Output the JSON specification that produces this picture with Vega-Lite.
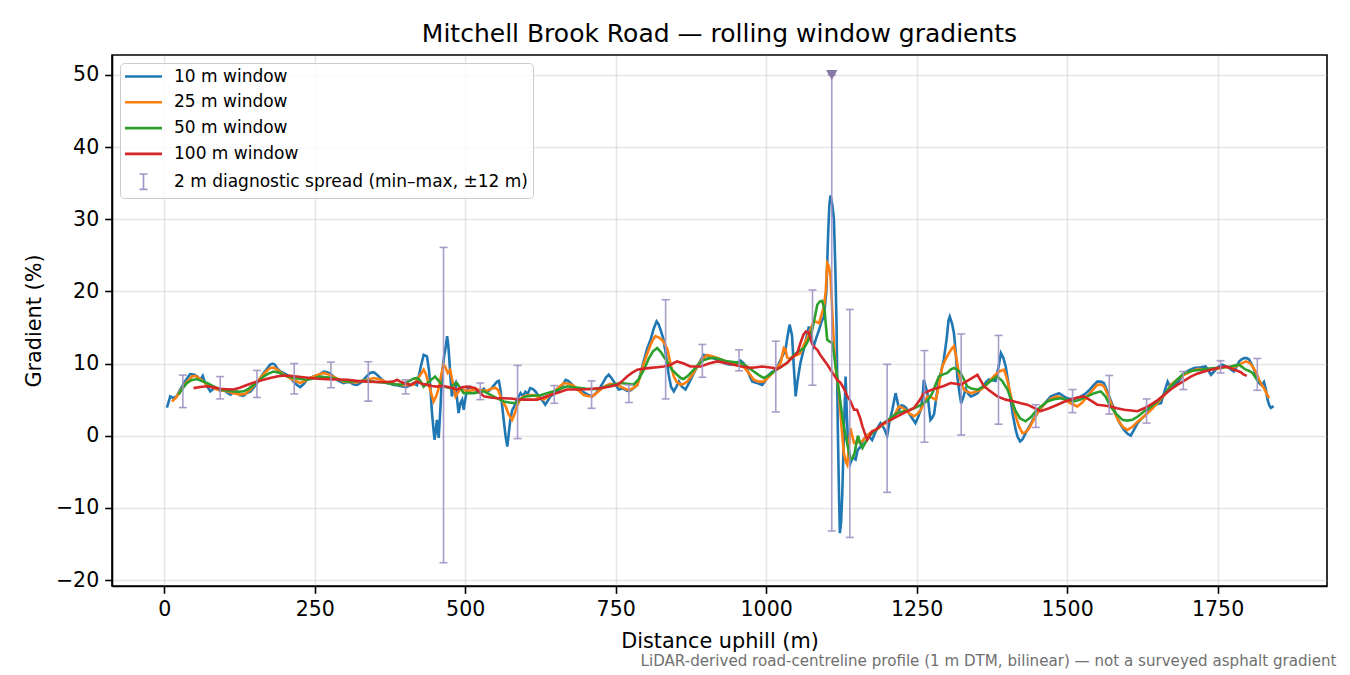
{
  "$schema": "https://vega.github.io/schema/vega-lite/v6.json",
  "autosize": {"type": "none"},
  "padding": {"left": 112, "top": 55, "right": 23, "bottom": 89},
  "width": 1215,
  "height": 531,
  "background": "white",
  "title": {
    "text": "Mitchell Brook Road — rolling window gradients",
    "font": "DejaVu Sans",
    "fontSize": 25,
    "fontWeight": "normal",
    "color": "black",
    "anchor": "middle",
    "offset": 8
  },
  "config": {
    "font": "DejaVu Sans",
    "view": {"stroke": "black", "strokeWidth": 1.6},
    "axis": {
      "labelFont": "DejaVu Sans",
      "labelFontSize": 20.5,
      "labelColor": "black",
      "titleFont": "DejaVu Sans",
      "titleFontSize": 20.8,
      "titleFontWeight": "normal",
      "titleColor": "black",
      "tickColor": "black",
      "tickSize": 7.3,
      "tickWidth": 1.6,
      "domainColor": "black",
      "domainWidth": 1.6,
      "labelPadding": 6,
      "gridColor": "#b0b0b0",
      "gridOpacity": 0.3,
      "gridWidth": 1.6
    },
    "legend": {
      "labelFont": "DejaVu Sans",
      "labelFontSize": 17,
      "labelColor": "black",
      "labelLimit": 0
    }
  },
  "datasets": {
    "w10": [
      {"dist":4.5,"grad":3.9},{"dist":10,"grad":5.45},{"dist":15.5,"grad":5.2},{"dist":21,"grad":5.5},{"dist":26.6,"grad":6.4},{"dist":35,"grad":7.6},{"dist":43,"grad":8.55},{"dist":49,"grad":8.5},{"dist":55,"grad":8.2},{"dist":60,"grad":7.75},{"dist":64,"grad":8.3},{"dist":68,"grad":7.3},{"dist":76.5,"grad":6.15},{"dist":82,"grad":6.5},{"dist":87.6,"grad":6.6},{"dist":93,"grad":6.2},{"dist":98.7,"grad":6.4},{"dist":104,"grad":6.0},{"dist":110,"grad":5.7},{"dist":115,"grad":6.0},{"dist":121,"grad":6.1},{"dist":126,"grad":5.6},{"dist":132,"grad":5.55},{"dist":137,"grad":5.9},{"dist":143,"grad":6.1},{"dist":148,"grad":6.6},{"dist":154,"grad":7.3},{"dist":160,"grad":8.0},{"dist":165,"grad":8.7},{"dist":171,"grad":9.3},{"dist":176,"grad":9.85},{"dist":180,"grad":10.0},{"dist":184,"grad":9.85},{"dist":188,"grad":9.3},{"dist":193,"grad":8.9},{"dist":198,"grad":8.7},{"dist":204,"grad":8.45},{"dist":210,"grad":8.0},{"dist":215,"grad":7.5},{"dist":221,"grad":7.0},{"dist":226,"grad":6.75},{"dist":232,"grad":7.2},{"dist":237,"grad":7.75},{"dist":243,"grad":8.0},{"dist":248,"grad":8.2},{"dist":256,"grad":8.4},{"dist":265,"grad":8.9},{"dist":271,"grad":8.8},{"dist":276,"grad":8.6},{"dist":281,"grad":8.2},{"dist":287,"grad":7.75},{"dist":292,"grad":7.5},{"dist":298,"grad":7.3},{"dist":304,"grad":7.45},{"dist":309,"grad":7.4},{"dist":315,"grad":7.1},{"dist":320,"grad":7.05},{"dist":326,"grad":7.3},{"dist":331,"grad":7.75},{"dist":337,"grad":8.3},{"dist":342,"grad":8.7},{"dist":348,"grad":8.8},{"dist":353,"grad":8.5},{"dist":359,"grad":8.0},{"dist":364,"grad":7.6},{"dist":370,"grad":7.3},{"dist":376,"grad":7.2},{"dist":381,"grad":7.05},{"dist":387,"grad":7.0},{"dist":392,"grad":6.9},{"dist":398,"grad":6.8},{"dist":403,"grad":6.75},{"dist":409,"grad":7.0},{"dist":414,"grad":7.3},{"dist":420,"grad":7.0},{"dist":426,"grad":9.5},{"dist":431,"grad":11.2},{"dist":436.5,"grad":11.0},{"dist":440,"grad":9.0},{"dist":442,"grad":6.8},{"dist":445,"grad":3.0},{"dist":449,"grad":-0.55},{"dist":451,"grad":0.5},{"dist":453,"grad":2.2},{"dist":456,"grad":-0.3},{"dist":459,"grad":4.0},{"dist":461.6,"grad":8.7},{"dist":465,"grad":11.0},{"dist":468,"grad":12.5},{"dist":470,"grad":13.8},{"dist":472,"grad":12.5},{"dist":474,"grad":10.1},{"dist":476,"grad":7.5},{"dist":478,"grad":5.45},{"dist":481,"grad":6.8},{"dist":484,"grad":7.3},{"dist":486,"grad":5.5},{"dist":489,"grad":3.15},{"dist":492,"grad":4.5},{"dist":495,"grad":5.0},{"dist":497.5,"grad":3.6},{"dist":500,"grad":5.0},{"dist":503,"grad":6.4},{"dist":508,"grad":6.8},{"dist":514,"grad":6.5},{"dist":519,"grad":6.2},{"dist":525,"grad":6.15},{"dist":531,"grad":6.5},{"dist":536,"grad":6.0},{"dist":542,"grad":6.4},{"dist":547,"grad":6.9},{"dist":553,"grad":7.5},{"dist":556,"grad":7.6},{"dist":558.5,"grad":6.4},{"dist":561,"grad":4.5},{"dist":564,"grad":2.2},{"dist":567,"grad":0.0},{"dist":570,"grad":-1.5},{"dist":572,"grad":0.0},{"dist":575,"grad":2.2},{"dist":578,"grad":3.5},{"dist":581,"grad":4.0},{"dist":586,"grad":5.0},{"dist":592,"grad":5.9},{"dist":596,"grad":5.5},{"dist":600,"grad":6.1},{"dist":604,"grad":5.8},{"dist":608,"grad":6.6},{"dist":612,"grad":6.5},{"dist":617,"grad":6.1},{"dist":621,"grad":5.6},{"dist":625,"grad":5.2},{"dist":629,"grad":4.8},{"dist":633,"grad":4.3},{"dist":637,"grad":4.8},{"dist":641.6,"grad":5.45},{"dist":647,"grad":5.8},{"dist":653,"grad":6.1},{"dist":660,"grad":6.8},{"dist":667,"grad":7.75},{"dist":671,"grad":7.6},{"dist":675,"grad":7.3},{"dist":680,"grad":6.9},{"dist":686,"grad":6.4},{"dist":692,"grad":6.2},{"dist":697,"grad":6.0},{"dist":704,"grad":5.7},{"dist":711,"grad":5.45},{"dist":715,"grad":5.7},{"dist":719,"grad":6.1},{"dist":725,"grad":6.8},{"dist":730,"grad":7.5},{"dist":734,"grad":8.1},{"dist":738.5,"grad":8.45},{"dist":743,"grad":8.0},{"dist":747,"grad":7.5},{"dist":751,"grad":6.9},{"dist":755,"grad":6.4},{"dist":760,"grad":6.5},{"dist":763.5,"grad":6.5},{"dist":769,"grad":6.2},{"dist":775,"grad":6.3},{"dist":780,"grad":6.6},{"dist":786,"grad":7.05},{"dist":791,"grad":8.5},{"dist":797,"grad":10.5},{"dist":802,"grad":12.0},{"dist":808,"grad":13.3},{"dist":813,"grad":14.8},{"dist":818,"grad":15.85},{"dist":821,"grad":15.5},{"dist":824.5,"grad":14.7},{"dist":829,"grad":13.5},{"dist":833,"grad":11.5},{"dist":838,"grad":8.5},{"dist":842,"grad":6.8},{"dist":846.6,"grad":6.15},{"dist":851,"grad":6.8},{"dist":855,"grad":7.5},{"dist":860,"grad":6.8},{"dist":866,"grad":6.4},{"dist":873,"grad":7.5},{"dist":880,"grad":8.7},{"dist":888,"grad":10.0},{"dist":896.5,"grad":11.2},{"dist":903,"grad":11.0},{"dist":910,"grad":10.8},{"dist":917,"grad":10.6},{"dist":924,"grad":10.4},{"dist":932,"grad":10.0},{"dist":941,"grad":9.85},{"dist":949,"grad":10.0},{"dist":957.5,"grad":10.4},{"dist":963,"grad":10.0},{"dist":968.6,"grad":9.15},{"dist":973,"grad":8.2},{"dist":977,"grad":7.5},{"dist":985,"grad":7.3},{"dist":993.5,"grad":7.05},{"dist":998,"grad":7.5},{"dist":1002,"grad":8.2},{"dist":1009,"grad":8.8},{"dist":1016,"grad":9.15},{"dist":1020,"grad":9.8},{"dist":1024,"grad":10.5},{"dist":1028,"grad":11.2},{"dist":1032,"grad":11.9},{"dist":1036,"grad":14.0},{"dist":1039,"grad":15.4},{"dist":1043,"grad":13.9},{"dist":1046,"grad":9.5},{"dist":1049,"grad":5.45},{"dist":1052,"grad":7.5},{"dist":1055,"grad":9.1},{"dist":1057,"grad":10.1},{"dist":1064,"grad":12.5},{"dist":1071,"grad":15.15},{"dist":1075,"grad":13.5},{"dist":1079,"grad":12.4},{"dist":1083,"grad":13.5},{"dist":1088,"grad":14.7},{"dist":1092,"grad":15.8},{"dist":1096,"grad":16.5},{"dist":1100,"grad":20},{"dist":1103,"grad":28},{"dist":1105,"grad":32},{"dist":1107,"grad":33.3},{"dist":1110,"grad":32},{"dist":1112.6,"grad":30},{"dist":1115,"grad":23},{"dist":1117,"grad":15.2},{"dist":1119,"grad":1.3},{"dist":1121,"grad":-8},{"dist":1122.5,"grad":-13.5},{"dist":1124.5,"grad":-12},{"dist":1126.5,"grad":-8},{"dist":1129,"grad":0},{"dist":1132,"grad":8.2},{"dist":1134,"grad":3},{"dist":1136,"grad":-1.0},{"dist":1140,"grad":-3.8},{"dist":1144,"grad":-3.0},{"dist":1148.6,"grad":-3.3},{"dist":1152,"grad":-2.0},{"dist":1157,"grad":-1.5},{"dist":1162,"grad":-0.5},{"dist":1168,"grad":0.1},{"dist":1172,"grad":-0.2},{"dist":1176,"grad":-0.6},{"dist":1183,"grad":0.8},{"dist":1190,"grad":1.75},{"dist":1196,"grad":1.0},{"dist":1201,"grad":0},{"dist":1205,"grad":2.0},{"dist":1209.6,"grad":3.6},{"dist":1215,"grad":5.9},{"dist":1218,"grad":4.8},{"dist":1221,"grad":3.6},{"dist":1225,"grad":4.2},{"dist":1229,"grad":4.1},{"dist":1233,"grad":3.8},{"dist":1237,"grad":3.15},{"dist":1242,"grad":2.5},{"dist":1248,"grad":1.75},{"dist":1252,"grad":2.5},{"dist":1257,"grad":3.6},{"dist":1260,"grad":5.5},{"dist":1262,"grad":7.75},{"dist":1265,"grad":6.8},{"dist":1268,"grad":5.9},{"dist":1271,"grad":3.5},{"dist":1273,"grad":2.2},{"dist":1276,"grad":2.5},{"dist":1279,"grad":3.0},{"dist":1283,"grad":5.5},{"dist":1287,"grad":7.75},{"dist":1291,"grad":9.0},{"dist":1295,"grad":10.5},{"dist":1300,"grad":13.5},{"dist":1303,"grad":16.0},{"dist":1305,"grad":16.5},{"dist":1309,"grad":15.5},{"dist":1312,"grad":14.2},{"dist":1315,"grad":11.5},{"dist":1317.6,"grad":8.2},{"dist":1321,"grad":6.0},{"dist":1324,"grad":4.5},{"dist":1328,"grad":5.5},{"dist":1331.5,"grad":6.5},{"dist":1336,"grad":5.8},{"dist":1340,"grad":5.45},{"dist":1345,"grad":5.6},{"dist":1351,"grad":5.9},{"dist":1356,"grad":6.4},{"dist":1362,"grad":7.05},{"dist":1366,"grad":7.5},{"dist":1370,"grad":7.8},{"dist":1376,"grad":7.7},{"dist":1381,"grad":7.6},{"dist":1386,"grad":9.5},{"dist":1390,"grad":11.45},{"dist":1394,"grad":10.8},{"dist":1398,"grad":9.6},{"dist":1402,"grad":7.5},{"dist":1406,"grad":5.0},{"dist":1410,"grad":2.8},{"dist":1414.6,"grad":0.8},{"dist":1418,"grad":-0.2},{"dist":1422,"grad":-0.8},{"dist":1426,"grad":-0.5},{"dist":1431,"grad":0.35},{"dist":1438,"grad":1.4},{"dist":1445,"grad":2.45},{"dist":1452,"grad":3.3},{"dist":1459,"grad":4.05},{"dist":1466,"grad":4.8},{"dist":1473,"grad":5.45},{"dist":1480,"grad":5.7},{"dist":1486.6,"grad":5.9},{"dist":1492,"grad":5.6},{"dist":1497.7,"grad":5.3},{"dist":1503,"grad":5.1},{"dist":1509,"grad":5.1},{"dist":1516,"grad":5.2},{"dist":1523,"grad":5.45},{"dist":1530,"grad":5.8},{"dist":1536.6,"grad":6.3},{"dist":1543,"grad":6.9},{"dist":1550,"grad":7.5},{"dist":1556,"grad":7.5},{"dist":1561,"grad":7.3},{"dist":1566,"grad":6.3},{"dist":1572,"grad":5.0},{"dist":1578,"grad":3.7},{"dist":1583.6,"grad":2.4},{"dist":1589,"grad":1.5},{"dist":1594.6,"grad":0.8},{"dist":1600,"grad":0.3},{"dist":1605.7,"grad":0},{"dist":1611,"grad":0.8},{"dist":1617,"grad":1.75},{"dist":1624,"grad":2.4},{"dist":1630.6,"grad":2.9},{"dist":1639,"grad":4.0},{"dist":1644.5,"grad":4.3},{"dist":1650,"grad":4.4},{"dist":1656,"grad":4.5},{"dist":1661,"grad":5.9},{"dist":1667,"grad":7.5},{"dist":1670,"grad":7.0},{"dist":1675,"grad":6.9},{"dist":1683,"grad":7.3},{"dist":1689,"grad":8.0},{"dist":1694.6,"grad":8.7},{"dist":1703,"grad":9.1},{"dist":1711,"grad":9.4},{"dist":1722,"grad":9.5},{"dist":1730,"grad":9.6},{"dist":1735,"grad":9.0},{"dist":1739,"grad":8.45},{"dist":1743,"grad":8.8},{"dist":1747,"grad":9.15},{"dist":1752,"grad":9.6},{"dist":1758,"grad":9.85},{"dist":1764,"grad":9.6},{"dist":1769,"grad":9.4},{"dist":1773,"grad":9.1},{"dist":1777,"grad":8.9},{"dist":1781,"grad":9.5},{"dist":1786,"grad":10.3},{"dist":1790,"grad":10.6},{"dist":1794,"grad":10.75},{"dist":1798,"grad":10.75},{"dist":1802,"grad":10.6},{"dist":1806,"grad":10.0},{"dist":1810.7,"grad":9.15},{"dist":1815,"grad":8.2},{"dist":1819,"grad":7.3},{"dist":1823,"grad":7.0},{"dist":1827,"grad":7.45},{"dist":1830,"grad":6.5},{"dist":1833,"grad":5.0},{"dist":1836,"grad":4.2},{"dist":1838.5,"grad":3.85},{"dist":1843,"grad":4.1}
    ],
    "w25": [
      {"dist":12.8,"grad":4.75},{"dist":20,"grad":5.3},{"dist":26.6,"grad":6.2},{"dist":36,"grad":7.3},{"dist":46,"grad":8.2},{"dist":52,"grad":8.3},{"dist":57,"grad":8.0},{"dist":64,"grad":7.6},{"dist":71,"grad":7.05},{"dist":80,"grad":6.7},{"dist":87.6,"grad":6.4},{"dist":95,"grad":6.3},{"dist":104,"grad":6.15},{"dist":115,"grad":5.9},{"dist":126,"grad":5.7},{"dist":135,"grad":5.8},{"dist":143,"grad":6.4},{"dist":151,"grad":7.2},{"dist":159.6,"grad":8.0},{"dist":168,"grad":8.8},{"dist":176,"grad":9.4},{"dist":182,"grad":9.45},{"dist":187,"grad":9.2},{"dist":195,"grad":8.7},{"dist":204,"grad":8.2},{"dist":215,"grad":7.7},{"dist":226,"grad":7.3},{"dist":234,"grad":7.6},{"dist":242.7,"grad":8.0},{"dist":254,"grad":8.4},{"dist":265,"grad":8.7},{"dist":273,"grad":8.5},{"dist":281,"grad":8.2},{"dist":290,"grad":7.8},{"dist":298,"grad":7.5},{"dist":309,"grad":7.45},{"dist":320,"grad":7.4},{"dist":334,"grad":7.7},{"dist":348,"grad":8.0},{"dist":359,"grad":7.8},{"dist":370,"grad":7.4},{"dist":381,"grad":7.2},{"dist":392,"grad":7.05},{"dist":403,"grad":7.0},{"dist":414,"grad":7.05},{"dist":422,"grad":8.0},{"dist":431,"grad":9.15},{"dist":435,"grad":8.5},{"dist":439,"grad":7.3},{"dist":443,"grad":6.0},{"dist":447.6,"grad":4.75},{"dist":452,"grad":5.5},{"dist":456,"grad":6.6},{"dist":460,"grad":8.3},{"dist":464,"grad":9.85},{"dist":467,"grad":9.5},{"dist":471,"grad":8.7},{"dist":475,"grad":9.1},{"dist":479,"grad":7.5},{"dist":484,"grad":5.45},{"dist":488,"grad":6.0},{"dist":492,"grad":6.45},{"dist":499,"grad":6.3},{"dist":506,"grad":6.25},{"dist":513,"grad":6.3},{"dist":520,"grad":6.4},{"dist":528,"grad":6.3},{"dist":536,"grad":6.25},{"dist":543,"grad":6.5},{"dist":550,"grad":6.65},{"dist":555,"grad":6.3},{"dist":558.5,"grad":5.45},{"dist":563,"grad":4.6},{"dist":567,"grad":4.1},{"dist":572,"grad":3.0},{"dist":578,"grad":2.2},{"dist":582,"grad":3.0},{"dist":586,"grad":4.1},{"dist":591,"grad":5.0},{"dist":597,"grad":5.45},{"dist":605,"grad":5.6},{"dist":614,"grad":5.65},{"dist":622,"grad":5.3},{"dist":630.5,"grad":5.0},{"dist":638,"grad":5.4},{"dist":647,"grad":6.0},{"dist":655,"grad":6.7},{"dist":664,"grad":7.3},{"dist":672,"grad":7.2},{"dist":680,"grad":6.95},{"dist":688,"grad":6.3},{"dist":697,"grad":5.65},{"dist":704,"grad":5.5},{"dist":711,"grad":5.45},{"dist":718,"grad":5.9},{"dist":725,"grad":6.4},{"dist":733,"grad":6.9},{"dist":741,"grad":7.2},{"dist":748,"grad":7.1},{"dist":755,"grad":6.95},{"dist":763,"grad":6.6},{"dist":772,"grad":6.3},{"dist":779,"grad":6.6},{"dist":786,"grad":7.05},{"dist":791,"grad":8.3},{"dist":797,"grad":10.1},{"dist":803,"grad":11.5},{"dist":808,"grad":12.6},{"dist":812,"grad":13.3},{"dist":816,"grad":13.8},{"dist":822,"grad":13.6},{"dist":827,"grad":13.3},{"dist":831,"grad":12.8},{"dist":836,"grad":12.0},{"dist":841,"grad":10.0},{"dist":846.6,"grad":8.2},{"dist":851,"grad":7.5},{"dist":857.7,"grad":7.05},{"dist":863,"grad":7.2},{"dist":869,"grad":7.5},{"dist":877,"grad":8.4},{"dist":885.5,"grad":9.6},{"dist":894,"grad":10.6},{"dist":902,"grad":11.2},{"dist":910,"grad":11.0},{"dist":918,"grad":10.8},{"dist":930,"grad":10.4},{"dist":941,"grad":10.1},{"dist":952,"grad":9.8},{"dist":963,"grad":9.5},{"dist":972,"grad":8.6},{"dist":979.5,"grad":7.75},{"dist":988,"grad":7.5},{"dist":996,"grad":7.5},{"dist":1005,"grad":8.2},{"dist":1013,"grad":8.9},{"dist":1019,"grad":9.5},{"dist":1024,"grad":10.1},{"dist":1029.5,"grad":12.15},{"dist":1032,"grad":12.0},{"dist":1035,"grad":10.8},{"dist":1040,"grad":10.7},{"dist":1046,"grad":11.0},{"dist":1052,"grad":11.2},{"dist":1057,"grad":11.45},{"dist":1062,"grad":12.5},{"dist":1068,"grad":13.5},{"dist":1074,"grad":14.8},{"dist":1079,"grad":15.85},{"dist":1083,"grad":15.8},{"dist":1088,"grad":15.6},{"dist":1092,"grad":16.8},{"dist":1096,"grad":17.9},{"dist":1099,"grad":20},{"dist":1101.5,"grad":23.9},{"dist":1104,"grad":23.5},{"dist":1107,"grad":22.0},{"dist":1110,"grad":17},{"dist":1112.5,"grad":12.85},{"dist":1116,"grad":9.0},{"dist":1121,"grad":5.9},{"dist":1125,"grad":1.5},{"dist":1129,"grad":-2.4},{"dist":1132,"grad":-3.5},{"dist":1134.8,"grad":-4.0},{"dist":1137,"grad":-2.0},{"dist":1140,"grad":1.05},{"dist":1143,"grad":0},{"dist":1146,"grad":-1.0},{"dist":1151,"grad":-0.8},{"dist":1157,"grad":-1.0},{"dist":1162,"grad":-0.5},{"dist":1168,"grad":0},{"dist":1173,"grad":0.4},{"dist":1179,"grad":0.7},{"dist":1186,"grad":1.0},{"dist":1193,"grad":1.5},{"dist":1198,"grad":1.7},{"dist":1204,"grad":2.0},{"dist":1212,"grad":2.7},{"dist":1220.5,"grad":4.05},{"dist":1226,"grad":3.9},{"dist":1231.7,"grad":3.6},{"dist":1238,"grad":3.1},{"dist":1245.5,"grad":2.7},{"dist":1251,"grad":3.0},{"dist":1257,"grad":3.6},{"dist":1262,"grad":4.5},{"dist":1268,"grad":5.45},{"dist":1275,"grad":5.3},{"dist":1282,"grad":5.0},{"dist":1287,"grad":7.0},{"dist":1292.7,"grad":9.6},{"dist":1298,"grad":10.6},{"dist":1303.7,"grad":11.45},{"dist":1308,"grad":12.0},{"dist":1312,"grad":12.4},{"dist":1316,"grad":10.8},{"dist":1320,"grad":8.7},{"dist":1324,"grad":7.4},{"dist":1328.6,"grad":6.4},{"dist":1334,"grad":6.1},{"dist":1340,"grad":5.9},{"dist":1348,"grad":6.1},{"dist":1356.6,"grad":6.4},{"dist":1365,"grad":7.0},{"dist":1373,"grad":7.75},{"dist":1380,"grad":8.4},{"dist":1387,"grad":8.9},{"dist":1395,"grad":9.15},{"dist":1399,"grad":8.2},{"dist":1403,"grad":6.85},{"dist":1408,"grad":5.0},{"dist":1414.6,"grad":2.7},{"dist":1420,"grad":1.3},{"dist":1425.7,"grad":0.35},{"dist":1431,"grad":0.5},{"dist":1436.7,"grad":1.0},{"dist":1443,"grad":2.0},{"dist":1450.6,"grad":3.15},{"dist":1458,"grad":4.0},{"dist":1467,"grad":4.75},{"dist":1475,"grad":5.2},{"dist":1484,"grad":5.45},{"dist":1492,"grad":5.2},{"dist":1500.5,"grad":4.75},{"dist":1508,"grad":4.4},{"dist":1517,"grad":4.05},{"dist":1525,"grad":4.6},{"dist":1533.7,"grad":5.45},{"dist":1542,"grad":6.3},{"dist":1550,"grad":7.05},{"dist":1556,"grad":7.1},{"dist":1561,"grad":6.85},{"dist":1568,"grad":5.6},{"dist":1575,"grad":4.05},{"dist":1580,"grad":3.0},{"dist":1586,"grad":1.95},{"dist":1593,"grad":1.2},{"dist":1600,"grad":0.8},{"dist":1608,"grad":1.2},{"dist":1617,"grad":1.95},{"dist":1625,"grad":2.5},{"dist":1633.5,"grad":3.1},{"dist":1642,"grad":3.8},{"dist":1650,"grad":4.5},{"dist":1658,"grad":5.3},{"dist":1667,"grad":6.15},{"dist":1672,"grad":7.05},{"dist":1683,"grad":7.8},{"dist":1694.6,"grad":8.45},{"dist":1705,"grad":8.9},{"dist":1717,"grad":9.25},{"dist":1728,"grad":9.2},{"dist":1739,"grad":9.15},{"dist":1750,"grad":9.3},{"dist":1761,"grad":9.5},{"dist":1770,"grad":9.5},{"dist":1780,"grad":9.6},{"dist":1789,"grad":10.0},{"dist":1797,"grad":10.3},{"dist":1803,"grad":10.1},{"dist":1808,"grad":9.6},{"dist":1814,"grad":8.8},{"dist":1819,"grad":7.75},{"dist":1823,"grad":7.1},{"dist":1827,"grad":6.6},{"dist":1831,"grad":5.9},{"dist":1835.5,"grad":5.2}
    ],
    "w50": [
      {"dist":24,"grad":5.7},{"dist":30,"grad":6.5},{"dist":37.7,"grad":7.3},{"dist":45,"grad":7.7},{"dist":54,"grad":7.85},{"dist":62,"grad":7.6},{"dist":71,"grad":7.3},{"dist":82,"grad":6.85},{"dist":93,"grad":6.4},{"dist":104,"grad":6.25},{"dist":115,"grad":6.15},{"dist":124,"grad":6.1},{"dist":132,"grad":6.15},{"dist":140,"grad":6.5},{"dist":148.5,"grad":7.05},{"dist":157,"grad":7.6},{"dist":165,"grad":8.2},{"dist":173,"grad":8.6},{"dist":181.7,"grad":8.9},{"dist":190,"grad":8.75},{"dist":198,"grad":8.45},{"dist":206,"grad":8.2},{"dist":215,"grad":8.0},{"dist":226,"grad":7.85},{"dist":237,"grad":7.75},{"dist":248,"grad":7.95},{"dist":259,"grad":8.2},{"dist":270,"grad":8.1},{"dist":281,"grad":8.0},{"dist":292,"grad":7.75},{"dist":304,"grad":7.5},{"dist":320,"grad":7.55},{"dist":337,"grad":7.6},{"dist":353,"grad":7.45},{"dist":370,"grad":7.3},{"dist":381,"grad":7.15},{"dist":392,"grad":7.05},{"dist":403,"grad":7.4},{"dist":414,"grad":7.9},{"dist":420,"grad":8.0},{"dist":425.5,"grad":7.6},{"dist":431,"grad":6.8},{"dist":440,"grad":7.5},{"dist":450,"grad":8.2},{"dist":457,"grad":7.5},{"dist":465,"grad":6.8},{"dist":475,"grad":6.6},{"dist":480,"grad":7.0},{"dist":486,"grad":7.3},{"dist":492,"grad":6.6},{"dist":497.5,"grad":5.9},{"dist":506,"grad":5.9},{"dist":514,"grad":5.9},{"dist":522,"grad":6.0},{"dist":531,"grad":6.15},{"dist":539,"grad":5.8},{"dist":547,"grad":5.45},{"dist":555,"grad":5.1},{"dist":564,"grad":4.75},{"dist":573,"grad":4.6},{"dist":583,"grad":4.5},{"dist":591,"grad":5.0},{"dist":600,"grad":5.45},{"dist":612,"grad":5.55},{"dist":625,"grad":5.6},{"dist":636,"grad":5.9},{"dist":647,"grad":6.15},{"dist":658,"grad":6.5},{"dist":669,"grad":6.85},{"dist":680,"grad":6.7},{"dist":691.5,"grad":6.6},{"dist":702,"grad":6.5},{"dist":713.6,"grad":6.45},{"dist":725,"grad":6.6},{"dist":736,"grad":6.85},{"dist":747,"grad":7.1},{"dist":758,"grad":7.3},{"dist":769,"grad":7.2},{"dist":780,"grad":7.1},{"dist":788,"grad":7.8},{"dist":797,"grad":9.15},{"dist":805,"grad":10.7},{"dist":812,"grad":11.7},{"dist":819,"grad":12.15},{"dist":826,"grad":11.5},{"dist":831,"grad":10.8},{"dist":835.6,"grad":10.3},{"dist":843,"grad":9.2},{"dist":852,"grad":8.45},{"dist":858,"grad":8.0},{"dist":863,"grad":7.85},{"dist":870,"grad":8.3},{"dist":880,"grad":9.15},{"dist":888,"grad":9.9},{"dist":896.5,"grad":10.5},{"dist":905,"grad":10.7},{"dist":913,"grad":10.8},{"dist":924,"grad":10.6},{"dist":935,"grad":10.3},{"dist":946,"grad":10.2},{"dist":957.5,"grad":10.1},{"dist":968,"grad":9.6},{"dist":979.5,"grad":8.9},{"dist":988,"grad":8.4},{"dist":996,"grad":8.0},{"dist":1005,"grad":8.4},{"dist":1013,"grad":8.9},{"dist":1024,"grad":9.5},{"dist":1035,"grad":10.1},{"dist":1046,"grad":11.2},{"dist":1054,"grad":11.7},{"dist":1063,"grad":12.15},{"dist":1070,"grad":13.2},{"dist":1076.6,"grad":14.7},{"dist":1081,"grad":16.5},{"dist":1085,"grad":18.15},{"dist":1089,"grad":18.6},{"dist":1093,"grad":18.7},{"dist":1097,"grad":17.5},{"dist":1099,"grad":15.5},{"dist":1101.5,"grad":13.3},{"dist":1106,"grad":13.0},{"dist":1110,"grad":12.9},{"dist":1114,"grad":10.5},{"dist":1118,"grad":8.0},{"dist":1122,"grad":5.5},{"dist":1126,"grad":3.0},{"dist":1129,"grad":1.3},{"dist":1134,"grad":-0.8},{"dist":1140,"grad":-3.3},{"dist":1144,"grad":-3.0},{"dist":1147,"grad":-2.4},{"dist":1150,"grad":-1.0},{"dist":1152.5,"grad":0},{"dist":1156,"grad":-1.0},{"dist":1160,"grad":-1.7},{"dist":1166,"grad":-0.8},{"dist":1173.6,"grad":0.15},{"dist":1185,"grad":1.0},{"dist":1195.6,"grad":1.75},{"dist":1207,"grad":2.5},{"dist":1218,"grad":3.15},{"dist":1229,"grad":3.4},{"dist":1240,"grad":3.6},{"dist":1251,"grad":4.0},{"dist":1262,"grad":4.5},{"dist":1269,"grad":5.0},{"dist":1276,"grad":5.9},{"dist":1282,"grad":7.2},{"dist":1287,"grad":8.2},{"dist":1294,"grad":8.5},{"dist":1301,"grad":8.7},{"dist":1307,"grad":9.2},{"dist":1312,"grad":9.4},{"dist":1318,"grad":9.1},{"dist":1323,"grad":8.7},{"dist":1328,"grad":7.9},{"dist":1334,"grad":6.85},{"dist":1342,"grad":6.5},{"dist":1351,"grad":6.4},{"dist":1362,"grad":6.85},{"dist":1373,"grad":7.6},{"dist":1384,"grad":8.2},{"dist":1392,"grad":7.6},{"dist":1401,"grad":6.4},{"dist":1408,"grad":4.8},{"dist":1414.6,"grad":3.4},{"dist":1422,"grad":2.4},{"dist":1431,"grad":2.0},{"dist":1440,"grad":2.6},{"dist":1448,"grad":3.4},{"dist":1457,"grad":4.1},{"dist":1467,"grad":4.75},{"dist":1478,"grad":5.05},{"dist":1489,"grad":5.2},{"dist":1500,"grad":5.0},{"dist":1511,"grad":4.75},{"dist":1522,"grad":5.0},{"dist":1533.7,"grad":5.45},{"dist":1545,"grad":5.9},{"dist":1556,"grad":6.15},{"dist":1564,"grad":5.4},{"dist":1572,"grad":4.05},{"dist":1582,"grad":3.0},{"dist":1592,"grad":2.2},{"dist":1600,"grad":2.1},{"dist":1608.5,"grad":2.2},{"dist":1618,"grad":2.7},{"dist":1628,"grad":3.4},{"dist":1639,"grad":4.0},{"dist":1650,"grad":4.75},{"dist":1660,"grad":5.6},{"dist":1669.5,"grad":6.6},{"dist":1682,"grad":7.7},{"dist":1694.6,"grad":8.7},{"dist":1708,"grad":9.0},{"dist":1722,"grad":9.15},{"dist":1736,"grad":9.3},{"dist":1750,"grad":9.4},{"dist":1762,"grad":9.5},{"dist":1772,"grad":9.6},{"dist":1780,"grad":9.75},{"dist":1786,"grad":9.85},{"dist":1791,"grad":9.5},{"dist":1797,"grad":9.15},{"dist":1802,"grad":9.0},{"dist":1808,"grad":8.7},{"dist":1812,"grad":8.2},{"dist":1818,"grad":7.4}
    ],
    "w100": [
      {"dist":48.7,"grad":6.6},{"dist":60,"grad":6.75},{"dist":71,"grad":6.85},{"dist":82,"grad":6.7},{"dist":93,"grad":6.5},{"dist":104,"grad":6.45},{"dist":115,"grad":6.4},{"dist":124,"grad":6.6},{"dist":132,"grad":6.85},{"dist":143,"grad":7.2},{"dist":154,"grad":7.5},{"dist":165,"grad":7.75},{"dist":176,"grad":8.0},{"dist":187,"grad":8.2},{"dist":198,"grad":8.35},{"dist":209,"grad":8.3},{"dist":220.6,"grad":8.2},{"dist":231,"grad":8.1},{"dist":242.7,"grad":8.0},{"dist":256,"grad":7.9},{"dist":270,"grad":7.85},{"dist":287,"grad":7.8},{"dist":304,"grad":7.75},{"dist":320,"grad":7.6},{"dist":337,"grad":7.5},{"dist":353,"grad":7.45},{"dist":370,"grad":7.45},{"dist":380,"grad":7.5},{"dist":387,"grad":7.75},{"dist":392,"grad":7.5},{"dist":398,"grad":7.3},{"dist":409,"grad":7.05},{"dist":420,"grad":7.5},{"dist":428,"grad":7.2},{"dist":436.5,"grad":7.05},{"dist":445,"grad":6.9},{"dist":453,"grad":6.8},{"dist":462,"grad":6.9},{"dist":470,"grad":6.8},{"dist":478,"grad":6.6},{"dist":486.5,"grad":6.4},{"dist":495,"grad":6.7},{"dist":503,"grad":6.8},{"dist":510,"grad":6.7},{"dist":517,"grad":6.6},{"dist":524,"grad":6.0},{"dist":531,"grad":5.45},{"dist":542,"grad":5.3},{"dist":553,"grad":5.2},{"dist":564,"grad":5.2},{"dist":575,"grad":5.15},{"dist":586,"grad":5.05},{"dist":597,"grad":5.0},{"dist":608,"grad":5.0},{"dist":619.6,"grad":5.0},{"dist":630,"grad":5.3},{"dist":641.6,"grad":5.65},{"dist":655,"grad":6.0},{"dist":669,"grad":6.4},{"dist":683,"grad":6.4},{"dist":697,"grad":6.4},{"dist":711,"grad":6.5},{"dist":725,"grad":6.6},{"dist":739,"grad":6.8},{"dist":752.5,"grad":7.05},{"dist":760,"grad":7.5},{"dist":769,"grad":8.2},{"dist":777,"grad":8.7},{"dist":786,"grad":9.15},{"dist":797,"grad":9.3},{"dist":808,"grad":9.4},{"dist":819,"grad":9.5},{"dist":830,"grad":9.6},{"dist":841,"grad":9.85},{"dist":852,"grad":10.3},{"dist":863,"grad":10.0},{"dist":874,"grad":9.6},{"dist":883,"grad":9.6},{"dist":891,"grad":9.6},{"dist":905,"grad":10.0},{"dist":918.7,"grad":10.3},{"dist":932,"grad":10.1},{"dist":946,"grad":9.85},{"dist":960,"grad":9.6},{"dist":974,"grad":9.4},{"dist":984,"grad":9.5},{"dist":993.5,"grad":9.6},{"dist":1003,"grad":9.5},{"dist":1013,"grad":9.4},{"dist":1016,"grad":9.15},{"dist":1024,"grad":9.5},{"dist":1035,"grad":10.1},{"dist":1043,"grad":10.8},{"dist":1051.7,"grad":11.45},{"dist":1057,"grad":12.85},{"dist":1062,"grad":14.0},{"dist":1066,"grad":14.45},{"dist":1071,"grad":14.3},{"dist":1076,"grad":12.8},{"dist":1081,"grad":12.2},{"dist":1085,"grad":11.9},{"dist":1090,"grad":11.2},{"dist":1096,"grad":10.5},{"dist":1102,"grad":9.8},{"dist":1107,"grad":9.15},{"dist":1112,"grad":8.5},{"dist":1118,"grad":7.75},{"dist":1124,"grad":7.3},{"dist":1130,"grad":6.4},{"dist":1135,"grad":5.45},{"dist":1140,"grad":4.8},{"dist":1146,"grad":3.6},{"dist":1151,"grad":3.6},{"dist":1156,"grad":2.5},{"dist":1160,"grad":1.3},{"dist":1164,"grad":0.3},{"dist":1168,"grad":-0.55},{"dist":1172,"grad":0.0},{"dist":1176,"grad":0.6},{"dist":1182,"grad":0.8},{"dist":1189,"grad":1.3},{"dist":1195.6,"grad":1.75},{"dist":1207,"grad":2.2},{"dist":1218,"grad":2.7},{"dist":1230,"grad":3.2},{"dist":1245.5,"grad":3.85},{"dist":1254,"grad":4.8},{"dist":1262,"grad":5.9},{"dist":1273,"grad":6.3},{"dist":1284,"grad":6.6},{"dist":1295,"grad":6.9},{"dist":1306.5,"grad":7.3},{"dist":1315,"grad":7.2},{"dist":1323,"grad":7.05},{"dist":1330,"grad":7.4},{"dist":1337,"grad":7.75},{"dist":1344,"grad":8.1},{"dist":1351,"grad":8.45},{"dist":1356,"grad":7.7},{"dist":1362,"grad":6.85},{"dist":1372,"grad":6.2},{"dist":1384,"grad":5.45},{"dist":1398,"grad":5.0},{"dist":1412,"grad":4.75},{"dist":1423,"grad":4.5},{"dist":1434,"grad":4.3},{"dist":1445,"grad":3.85},{"dist":1456,"grad":3.4},{"dist":1470,"grad":3.8},{"dist":1484,"grad":4.3},{"dist":1495,"grad":4.7},{"dist":1506,"grad":5.0},{"dist":1517,"grad":5.3},{"dist":1528,"grad":5.45},{"dist":1539,"grad":4.9},{"dist":1550,"grad":4.3},{"dist":1561,"grad":4.2},{"dist":1572,"grad":4.05},{"dist":1583,"grad":3.8},{"dist":1594.6,"grad":3.6},{"dist":1606,"grad":3.5},{"dist":1617,"grad":3.4},{"dist":1628,"grad":3.8},{"dist":1639,"grad":4.3},{"dist":1650,"grad":4.9},{"dist":1661,"grad":5.65},{"dist":1672,"grad":6.4},{"dist":1683,"grad":7.05},{"dist":1694,"grad":7.6},{"dist":1705.5,"grad":8.2},{"dist":1716,"grad":8.6},{"dist":1727.6,"grad":8.9},{"dist":1739,"grad":9.15},{"dist":1750,"grad":9.4},{"dist":1757,"grad":9.5},{"dist":1764,"grad":9.6},{"dist":1771,"grad":9.4},{"dist":1777,"grad":9.15},{"dist":1783,"grad":9.0},{"dist":1788.6,"grad":8.8},{"dist":1793,"grad":8.5},{"dist":1798.5,"grad":8.3}
    ],
    "spread": [
      {"dist":31,"lo":3.9,"hi":8.4,"clipped":false},
      {"dist":93,"lo":5.1,"hi":8.2,"clipped":false},
      {"dist":154,"lo":5.3,"hi":9.05,"clipped":false},
      {"dist":216,"lo":5.8,"hi":10.0,"clipped":false},
      {"dist":277,"lo":6.65,"hi":10.2,"clipped":false},
      {"dist":339,"lo":4.8,"hi":10.25,"clipped":false},
      {"dist":401,"lo":5.8,"hi":7.75,"clipped":false},
      {"dist":464,"lo":-17.6,"hi":26.1,"clipped":false},
      {"dist":525,"lo":5.0,"hi":7.3,"clipped":false},
      {"dist":587,"lo":-0.4,"hi":9.75,"clipped":false},
      {"dist":648,"lo":4.5,"hi":6.95,"clipped":false},
      {"dist":710,"lo":3.8,"hi":7.6,"clipped":false},
      {"dist":772,"lo":4.6,"hi":7.05,"clipped":false},
      {"dist":833,"lo":5.1,"hi":18.85,"clipped":false},
      {"dist":894,"lo":8.1,"hi":12.65,"clipped":false},
      {"dist":955,"lo":9.0,"hi":11.9,"clipped":false},
      {"dist":1016,"lo":3.3,"hi":13.1,"clipped":false},
      {"dist":1077,"lo":7.0,"hi":20.2,"clipped":false},
      {"dist":1109,"lo":-13.2,"hi":50,"clipped":true},
      {"dist":1139,"lo":-14.1,"hi":17.5,"clipped":false},
      {"dist":1201,"lo":-7.85,"hi":9.9,"clipped":false},
      {"dist":1263,"lo":-0.9,"hi":11.8,"clipped":false},
      {"dist":1324,"lo":0.1,"hi":14.1,"clipped":false},
      {"dist":1386,"lo":1.6,"hi":13.9,"clipped":false},
      {"dist":1448,"lo":1.15,"hi":4.3,"clipped":false},
      {"dist":1509,"lo":3.2,"hi":6.4,"clipped":false},
      {"dist":1570,"lo":3.0,"hi":8.35,"clipped":false},
      {"dist":1632,"lo":1.75,"hi":5.1,"clipped":false},
      {"dist":1693,"lo":6.4,"hi":8.9,"clipped":false},
      {"dist":1755,"lo":8.7,"hi":10.4,"clipped":false},
      {"dist":1816,"lo":6.3,"hi":10.7,"clipped":false}
    ]
  },
  "layer": [
    {
      "data": {"name": "w10"},
      "mark": {"type": "line", "strokeWidth": 2.6, "clip": true},
      "encoding": {
        "x": {
          "field": "dist", "type": "quantitative",
          "scale": {"domain": [-86.75, 1931.75], "nice": false, "zero": false},
          "axis": {
            "title": "Distance uphill (m)",
            "values": [0, 250, 500, 750, 1000, 1250, 1500, 1750],
            "format": "d",
            "titlePadding": 12,
            "grid": true
          }
        },
        "y": {
          "field": "grad", "type": "quantitative", "title": "Gradient (%)",
          "scale": {"domain": [-20.83, 52.77], "nice": false, "zero": false},
          "axis": {
            "values": [-20, -10, 0, 10, 20, 30, 40, 50],
            "labelExpr": "datum.value < 0 ? '−' + abs(datum.value) : '' + datum.value",
            "titlePadding": 11,
            "grid": true
          }
        },
        "color": {
          "datum": "10 m window",
          "type": "nominal",
          "scale": {
            "domain": ["10 m window", "25 m window", "50 m window", "100 m window", "2 m diagnostic spread (min–max, ±12 m)"],
            "range": ["#1f77b4", "#ff7f0e", "#2ca02c", "#d62728", "#a192c4"]
          },
          "legend": {
            "title": null,
            "orient": "top-left",
            "offset": 8,
            "padding": 5,
            "strokeColor": "#cccccc",
            "fillColor": "rgba(255,255,255,0.8)",
            "cornerRadius": 4,
            "symbolSize": 289,
            "symbolOffset": 10,
            "labelOffset": 22,
            "labelLimit": 0,
            "rowPadding": 7.8,
            "encode": {
              "symbols": {
                "update": {
                  "shape": {"signal": "datum.index === 4 ? 'M0,-0.9V0.9M-0.47,-0.9H0.47M-0.47,0.9H0.47' : 'M-2.18,0H2.18'"},
                  "fill": {"value": "transparent"},
                  "stroke": {"scale": "color", "field": "value"},
                  "strokeWidth": {"signal": "datum.index === 4 ? 1.6 : 2.6"},
                  "opacity": {"value": 1}
                }
              }
            }
          }
        }
      }
    },
    {
      "data": {"name": "w25"},
      "mark": {"type": "line", "strokeWidth": 2.6, "clip": true},
      "encoding": {
        "x": {"field": "dist", "type": "quantitative", "axis": null},
        "y": {"field": "grad", "type": "quantitative", "title": "Gradient (%)"},
        "color": {"datum": "25 m window", "type": "nominal"}
      }
    },
    {
      "data": {"name": "w50"},
      "mark": {"type": "line", "strokeWidth": 2.6, "clip": true},
      "encoding": {
        "x": {"field": "dist", "type": "quantitative", "axis": null},
        "y": {"field": "grad", "type": "quantitative", "title": "Gradient (%)"},
        "color": {"datum": "50 m window", "type": "nominal"}
      }
    },
    {
      "data": {"name": "w100"},
      "mark": {"type": "line", "strokeWidth": 2.6, "clip": true},
      "encoding": {
        "x": {"field": "dist", "type": "quantitative", "axis": null},
        "y": {"field": "grad", "type": "quantitative", "title": "Gradient (%)"},
        "color": {"datum": "100 m window", "type": "nominal"}
      }
    },
    {
      "data": {"name": "spread"},
      "mark": {"type": "errorbar", "orient": "vertical", "ticks": true, "size": 8, "thickness": 1.6, "opacity": 0.9, "clip": true},
      "encoding": {
        "x": {"field": "dist", "type": "quantitative", "axis": null},
        "y": {"field": "lo", "type": "quantitative", "title": "Gradient (%)"},
        "y2": {"field": "hi"},
        "color": {"datum": "2 m diagnostic spread (min–max, ±12 m)", "type": "nominal"}
      }
    },
    {
      "data": {"name": "spread"},
      "transform": [{"filter": "datum.clipped"}],
      "mark": {"type": "point", "shape": "triangle-down", "filled": true, "size": 130, "color": "#8878a8", "opacity": 1},
      "encoding": {
        "x": {
          "field": "dist", "type": "quantitative",
          "axis": {
            "orient": "bottom",
            "domain": false,
            "ticks": false,
            "labels": false,
            "grid": false,
            "title": "LiDAR-derived road-centreline profile (1 m DTM, bilinear) — not a surveyed asphalt gradient",
            "titleFontSize": 15.1,
            "titleColor": "#707070",
            "titleAlign": "right",
            "titleAnchor": "end",
            "titleBaseline": "middle",
            "titleX": 1224,
            "titleY": 74
          }
        },
        "y": {"field": "hi", "type": "quantitative", "title": "Gradient (%)"}
      }
    }
  ],
  "resolve": {"axis": {"x": "independent"}}
}
